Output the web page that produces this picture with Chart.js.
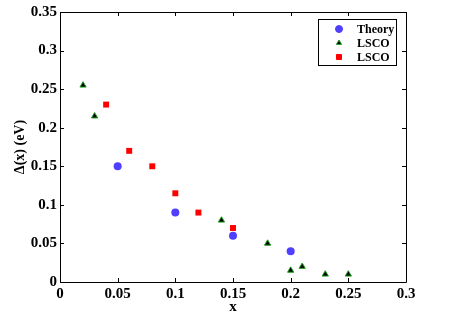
<!DOCTYPE html>
<html>
<head>
<meta charset="utf-8">
<script src="https://cdn.jsdelivr.net/npm/chart.js@4"></script>
<style>
  html, body { margin: 0; padding: 0; background: #fff; }
  #wrap { width: 463px; height: 316px; }
</style>
</head>
<body>
<div id="wrap"><canvas id="myChart" width="463" height="316"></canvas></div>
<script>
const xTicks = [0, 0.05, 0.1, 0.15, 0.2, 0.25, 0.3];
const yTicks = [0, 0.05, 0.1, 0.15, 0.2, 0.25, 0.3, 0.35];

const theoryX = [0.05, 0.1, 0.15, 0.2];
const theoryY = [0.15, 0.09, 0.06, 0.04];

const lscoTriX = [0.02, 0.03, 0.14, 0.18, 0.2, 0.21, 0.23, 0.25];
const lscoTriY = [0.255, 0.215, 0.08, 0.05, 0.015, 0.02, 0.01, 0.01];

const lscoSqX = [0.04, 0.06, 0.08, 0.1, 0.12, 0.15];
const lscoSqY = [0.23, 0.17, 0.15, 0.115, 0.09, 0.07];

const FONT = "'Liberation Serif', 'Times New Roman', serif";

function toPoints(xs, ys) {
  return xs.map((x, i) => ({ x: x, y: ys[i] }));
}

// matlab style box with inward ticks, plus a legend inside the plot
const boxPlugin = {
  id: "box",
  afterDraw(chart) {
    const { ctx, chartArea: a, scales } = chart;
    ctx.save();
    ctx.strokeStyle = "#000";
    ctx.lineWidth = 1;
    ctx.beginPath();
    ctx.rect(a.left + 0.5, a.top + 0.5, a.right - a.left, a.bottom - a.top);
    ctx.stroke();

    ctx.beginPath();
    xTicks.forEach(v => {
      const px = Math.round(scales.x.getPixelForValue(v)) + 0.5;
      ctx.moveTo(px, a.bottom); ctx.lineTo(px, a.bottom - 4);
      ctx.moveTo(px, a.top); ctx.lineTo(px, a.top + 4);
    });
    yTicks.forEach(v => {
      const py = Math.round(scales.y.getPixelForValue(v)) + 0.5;
      ctx.moveTo(a.left, py); ctx.lineTo(a.left + 4, py);
      ctx.moveTo(a.right, py); ctx.lineTo(a.right - 4, py);
    });
    ctx.stroke();

    // legend
    const bx = a.right - 88, by = a.top + 7, bw = 78, bh = 46;
    ctx.fillStyle = "#fff";
    ctx.fillRect(bx, by, bw, bh);
    ctx.strokeRect(bx + 0.5, by + 0.5, bw, bh);
    ctx.font = "bold 12px " + FONT;
    ctx.textBaseline = "middle";
    chart.data.datasets.forEach((ds, i) => {
      const cy = by + 10 + i * 14;
      const r = ds.pointStyle === "circle" ? 3.5 : 3;
      ctx.fillStyle = ds.backgroundColor;
      ctx.strokeStyle = ds.borderColor;
      ctx.beginPath();
      if (ds.pointStyle === "circle") {
        ctx.arc(bx + 21, cy, r, 0, Math.PI * 2);
      } else if (ds.pointStyle === "triangle") {
        ctx.moveTo(bx + 21, cy - r);
        ctx.lineTo(bx + 21 + r * 0.87, cy + r * 0.5);
        ctx.lineTo(bx + 21 - r * 0.87, cy + r * 0.5);
        ctx.closePath();
      } else {
        ctx.rect(bx + 21 - 2.5, cy - 2.5, 5, 5);
      }
      ctx.fill();
      ctx.stroke();
      ctx.fillStyle = "#000";
      ctx.fillText(ds.label, bx + 39, cy + 1);
    });
    ctx.restore();
  }
};

const ctx = document.getElementById("myChart").getContext("2d");
const myChart = new Chart(ctx, {
  type: "scatter",
  data: {
    datasets: [
      {
        label: "Theory",
        data: toPoints(theoryX, theoryY),
        pointStyle: "circle",
        pointRadius: 4,
        backgroundColor: "#4f3fff",
        borderColor: "#4f3fff",
        borderWidth: 0
      },
      {
        label: "LSCO",
        data: toPoints(lscoTriX, lscoTriY),
        pointStyle: "triangle",
        pointRadius: 3.6,
        backgroundColor: "#000000",
        borderColor: "#1ea01e",
        borderWidth: 1
      },
      {
        label: "LSCO",
        data: toPoints(lscoSqX, lscoSqY),
        pointStyle: "rect",
        pointRadius: 4.2,
        backgroundColor: "#ff0000",
        borderColor: "#ff0000",
        borderWidth: 0
      }
    ]
  },
  options: {
    responsive: false,
    animation: false,
    layout: { padding: { top: 6, right: 57, left: 0, bottom: 0 } },
    plugins: { legend: { display: false }, tooltip: { enabled: false } },
    scales: {
      x: {
        type: "linear",
        min: 0, max: 0.3,
        afterBuildTicks: s => { s.ticks = xTicks.map(v => ({ value: v })); },
        afterFit: s => { s.height = 34; },
        grid: { display: false, drawTicks: false },
        border: { display: false },
        ticks: {
          color: "#000",
          padding: 3,
          maxRotation: 0,
          font: { family: FONT, size: 15, weight: "bold" },
          callback: v => String(Number(v.toFixed(2)))
        },
        title: {
          display: true, text: "x", color: "#000",
          padding: { top: -5, bottom: 0 },
          font: { family: FONT, size: 15, weight: "bold" }
        }
      },
      y: {
        type: "linear",
        min: 0, max: 0.35,
        afterBuildTicks: s => { s.ticks = yTicks.map(v => ({ value: v })); },
        afterFit: s => { s.width = 60; },
        grid: { display: false, drawTicks: false },
        border: { display: false },
        ticks: {
          color: "#000",
          padding: 3,
          font: { family: FONT, size: 15, weight: "bold" },
          callback: v => String(Number(v.toFixed(2)))
        },
        title: {
          display: true, text: "Δ(x) (eV)", color: "#000",
          padding: { top: 12, bottom: 0 },
          font: { family: FONT, size: 14, weight: "bold" }
        }
      }
    }
  },
  plugins: [boxPlugin]
});
</script>
</body>
</html>
